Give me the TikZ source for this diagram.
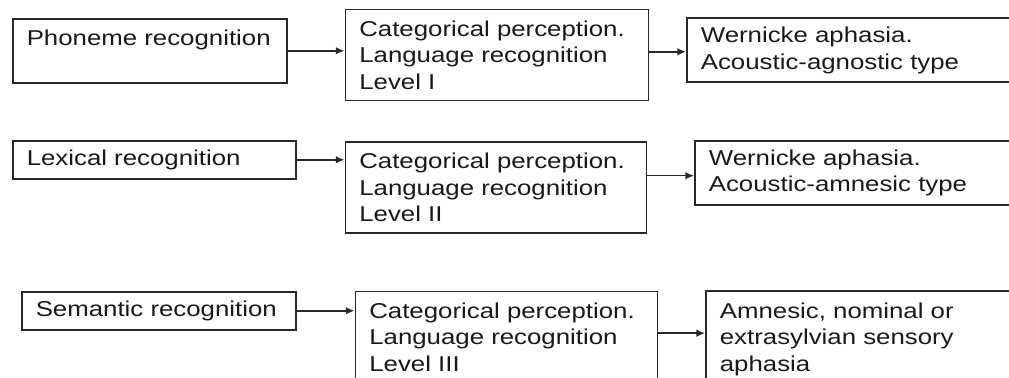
\documentclass[tikz,border=0pt]{standalone}
\usepackage{fontspec}
\setmainfont{Liberation Sans}[FakeStretch=1.2]
\usepackage{xcolor}
\usepackage{tikz}
\usetikzlibrary{arrows.meta,positioning}
\definecolor{inkgray}{RGB}{40,40,40}
\definecolor{textgray}{RGB}{25,25,25}

\begin{document}
\begin{tikzpicture}[
box/.style={draw=inkgray, line width=1.1pt, inner xsep=0.35cm, align=left, text=textgray, text width=#1, font=\fontsize{15.3}{18.9}\selectfont},
onebox/.style={box=#1, minimum height=0.95cm},
twobox/.style={box=#1, minimum height=1.6cm},
levelbox/.style={box=#1, minimum height=2.275cm},
arrow/.style={-{Latex[length=2.2mm, width=1.9mm]}, line width=1.1pt, inkgray}
]
\useasboundingbox (0,0) rectangle (25.225,-9.45);
\clip (0,0) rectangle (25.225,-9.45);

\node[twobox=6.15cm, anchor=north west, inner ysep=0.27cm, text depth=0.66cm] (phoneme) at (0.3,-0.45) {Phoneme recognition};
\node[levelbox=6.875cm, right=1.425cm of phoneme, yshift=-0.11cm] (levelone) {Categorical perception.\\Language recognition\\Level I};
\node[twobox=7.375cm, right=0.925cm of levelone, yshift=0.125cm] (agnostic) {Wernicke aphasia.\\Acoustic-agnostic type};

\node[onebox=6.375cm, anchor=north west] (lexical) at (0.3,-3.5) {Lexical recognition};
\node[levelbox=6.825cm, right=1.2cm of lexical, yshift=-0.69cm] (leveltwo) {Categorical perception.\\Language recognition\\Level II};
\node[twobox=7.2cm, right=1.175cm of leveltwo, yshift=0.3625cm] (amnesic) {Wernicke aphasia.\\Acoustic-amnesic type};

\node[onebox=6.15cm, anchor=north west] (semantic) at (0.525,-7.275) {Semantic recognition};
\node[levelbox=6.85cm, right=1.45cm of semantic, yshift=-0.66cm] (levelthree) {Categorical perception.\\Language recognition\\Level III};
\node[box=7.5cm, minimum height=2.4cm, right=1.175cm of levelthree, yshift=-0.05cm] (nominal) {Amnesic, nominal or\\extrasylvian sensory\\aphasia};

\draw[arrow] (phoneme.east) -- (phoneme.east -| levelone.west);
\draw[arrow] ([yshift=-0.04cm]agnostic.west -| levelone.east) -- ([yshift=-0.04cm]agnostic.west);
\draw[arrow] (lexical.east) -- (lexical.east -| leveltwo.west);
\draw[arrow] ([yshift=-0.07cm]amnesic.west -| leveltwo.east) -- ([yshift=-0.07cm]amnesic.west);
\draw[arrow] (semantic.east) -- (semantic.east -| levelthree.west);
\draw[arrow] ([yshift=0.1cm]levelthree.east) -- ([yshift=0.1cm]levelthree.east -| nominal.west);
\end{tikzpicture}
\end{document}
